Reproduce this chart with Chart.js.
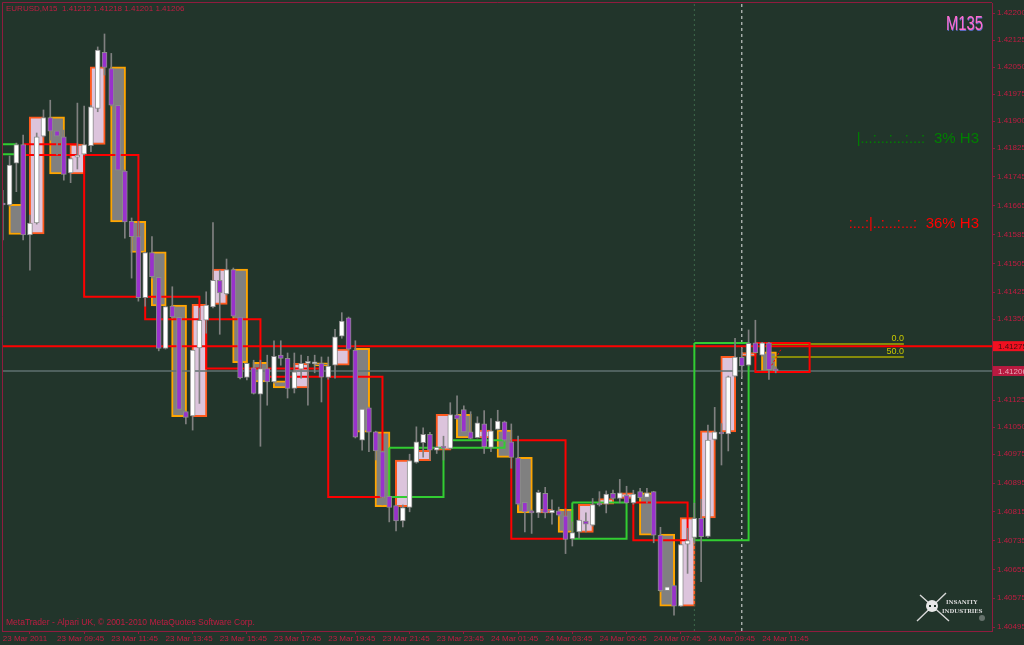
<!DOCTYPE html>
<html>
<head>
<meta charset="utf-8">
<title>EURUSD,M15</title>
<style>
  html, body { margin: 0; padding: 0; background: #22352b; overflow: hidden; }
  canvas { display: block; }
</style>
<script src="https://cdn.jsdelivr.net/npm/chart.js@4/dist/chart.umd.min.js"></script>
</head>
<body>
<canvas id="chart" width="1024" height="645"></canvas>
<script>
// M15 candles, index = bar number from the left edge
const opens = [1.41672,1.41667,1.41783,1.41835,1.41584,1.41617,1.41858,1.41910,1.41873,1.41856,
  1.41756,1.41800,1.41808,1.41832,1.41935,1.42091,1.42046,1.41944,1.41761,1.41622,
  1.41579,1.41410,1.41535,1.41466,1.41269,1.41386,1.41355,1.41093,1.41081,1.41270,
  1.41347,1.41384,1.41458,1.41420,1.41488,1.41356,1.41188,1.41215,1.41142,1.41213,
  1.41176,1.41250,1.41241,1.41158,1.41211,1.41227,1.41226,1.41227,1.41188,1.41222,
  1.41303,1.41354,1.41264,1.41014,1.41104,1.41037,1.40982,1.40858,1.40832,1.40790,
  1.40827,1.40952,1.41007,1.41030,1.40986,1.40997,1.40991,1.41084,1.41099,1.41037,
  1.41021,1.41059,1.40994,1.41044,1.41065,1.41009,1.40965,1.40841,1.40817,1.40812,
  1.40866,1.40812,1.40818,1.40804,1.40740,1.40759,1.40789,1.40778,1.40838,1.40836,
  1.40866,1.40852,1.40861,1.40840,1.40871,1.40855,1.40871,1.40750,1.40596,1.40610,
  1.40553,1.40725,1.40744,1.40797,1.40747,1.41016,1.41036,1.41031,1.41192,1.41244,
  1.41222,1.41284,1.41250,1.41284,1.41212];
const highs = [1.41708,1.41803,1.41839,1.41861,1.41639,1.41867,1.41931,1.41958,1.41889,1.41875,
  1.41797,1.41950,1.41942,1.41944,1.42106,1.42142,1.42088,1.41964,1.41764,1.41631,
  1.41622,1.41536,1.41579,1.41470,1.41386,1.41440,1.41368,1.41095,1.41264,1.41381,
  1.41426,1.41618,1.41486,1.41517,1.41492,1.41433,1.41228,1.41236,1.41236,1.41250,
  1.41290,1.41290,1.41256,1.41256,1.41250,1.41247,1.41250,1.41245,1.41245,1.41322,
  1.41368,1.41356,1.41290,1.41147,1.41106,1.41039,1.40984,1.40859,1.40834,1.40834,
  1.40975,1.41051,1.41048,1.41036,1.40996,1.41025,1.41118,1.41137,1.41109,1.41093,
  1.41079,1.41096,1.41074,1.41097,1.41067,1.41059,1.41025,1.40842,1.40820,1.40875,
  1.40883,1.40848,1.40828,1.40823,1.40787,1.40792,1.40812,1.40852,1.40871,1.40873,
  1.40875,1.40905,1.40886,1.40875,1.40880,1.40880,1.40872,1.40772,1.40679,1.40611,
  1.40725,1.40769,1.40839,1.40850,1.41056,1.41105,1.41060,1.41192,1.41297,1.41270,
  1.41320,1.41347,1.41286,1.41286,1.41218];
const lows = [1.41570,1.41664,1.41704,1.41570,1.41486,1.41614,1.41856,1.41847,1.41806,1.41736,
  1.41729,1.41767,1.41806,1.41815,1.41926,1.42028,1.41942,1.41761,1.41575,1.41464,
  1.41400,1.41386,1.41464,1.41262,1.41267,1.41353,1.41089,1.41059,1.41042,1.41116,
  1.41311,1.41381,1.41308,1.41417,1.41356,1.41184,1.41181,1.41142,1.40997,1.41111,
  1.41172,1.41222,1.41131,1.41145,1.41186,1.41111,1.41201,1.41120,1.41183,1.41186,
  1.41297,1.41264,1.41020,1.40986,1.40982,1.40959,1.40834,1.40787,1.40762,1.40773,
  1.40815,1.40950,1.40967,1.40959,1.40977,1.40959,1.40989,1.41072,1.41036,1.41017,
  1.41020,1.40977,1.40982,1.41042,1.41011,1.40936,1.40834,1.40759,1.40755,1.40799,
  1.40798,1.40781,1.40803,1.40699,1.40720,1.40742,1.40759,1.40775,1.40831,1.40812,
  1.40849,1.40840,1.40838,1.40836,1.40853,1.40839,1.40729,1.40593,1.40570,1.40528,
  1.40552,1.40644,1.40728,1.40621,1.40744,1.41014,1.40945,1.40984,1.41189,1.41190,
  1.41220,1.41256,1.41247,1.41183,1.41201];
const closes = [1.41667,1.41778,1.41835,1.41584,1.41617,1.41856,1.41910,1.41872,1.41858,1.41752,
  1.41796,1.41803,1.41835,1.41940,1.42097,1.42049,1.41944,1.41764,1.41620,1.41579,
  1.41410,1.41535,1.41468,1.41269,1.41385,1.41356,1.41099,1.41077,1.41264,1.41347,
  1.41389,1.41458,1.41423,1.41488,1.41358,1.41187,1.41227,1.41144,1.41213,1.41176,
  1.41247,1.41241,1.41158,1.41204,1.41227,1.41229,1.41229,1.41189,1.41220,1.41301,
  1.41345,1.41267,1.41022,1.41100,1.41036,1.40984,1.40855,1.40827,1.40790,1.40827,
  1.40957,1.41009,1.41030,1.40986,1.40994,1.40992,1.41085,1.41073,1.41037,1.41019,
  1.41062,1.40996,1.41040,1.41067,1.41014,1.40966,1.40836,1.40815,1.40812,1.40869,
  1.40812,1.40820,1.40806,1.40738,1.40757,1.40792,1.40781,1.40835,1.40834,1.40864,
  1.40852,1.40868,1.40840,1.40864,1.40854,1.40868,1.40750,1.40596,1.40607,1.40553,
  1.40724,1.40735,1.40797,1.40746,1.41014,1.41037,1.41031,1.41190,1.41245,1.41220,
  1.41283,1.41257,1.41284,1.41210,1.41206];

// higher timeframe candles drawn behind the M15 bars
const boxBars = [2,5,8,11,14,17,20,23,26,29,32,35,38,41,44,47,50,53,56,59,62,65,68,71,74,77,80,83,86,89,92,95,98,101,104,107,110,113];
const boxOpens = [1.41669,1.41587,1.41912,1.41753,1.41835,1.42051,1.41622,1.41537,1.41389,1.41079,1.41391,1.41489,1.41230,1.41179,1.41159,1.41229,1.41222,1.41269,1.41037,1.40829,1.40957,1.40986,1.41086,1.41020,1.41042,1.40966,1.40812,1.40822,1.40758,1.40836,1.40852,1.40868,1.40753,1.40553,1.40798,1.41037,1.41247,1.41259];
const boxCloses = [1.41585,1.41912,1.41753,1.41836,1.42051,1.41620,1.41535,1.41387,1.41079,1.41391,1.41489,1.41229,1.41176,1.41159,1.41227,1.41220,1.41267,1.41036,1.40829,1.40959,1.40986,1.41086,1.41020,1.41042,1.40966,1.40812,1.40822,1.40758,1.40836,1.40852,1.40868,1.40750,1.40553,1.40799,1.41040,1.41247,1.41257,1.41203];

// H3 outline boxes
const frameStart = [-6,3,12,21,30,39,48,57,66,75,84,93,102,111];
const frameEnd = [2,11,20,29,38,47,56,65,74,83,92,101,110,119];
const frameTop = [1.41836,1.41836,1.41806,1.41412,1.41350,1.41213,1.41190,1.40993,1.41014,1.41014,1.40841,1.40841,1.41284,1.41284];
const frameBottom = [1.41808,1.41806,1.41412,1.41350,1.41213,1.41190,1.40856,1.40856,1.40993,1.40740,1.40740,1.40736,1.40736,1.41203];
const frameUp = [true,false,false,false,false,false,false,true,true,false,true,false,true,false];

const priceTicks = [1.42200,1.42125,1.42050,1.41975,1.41900,1.41825,1.41745,1.41665,1.41585,1.41505,1.41425,1.41350,1.41125,1.41050,1.40975,1.40895,1.40815,1.40735,1.40655,1.40575,1.40495];
const timeTickBars = [0,8,16,24,32,40,48,56,64,72,80,88,96,104,112];
const timeLabels = ["23 Mar 2011","23 Mar 09:45","23 Mar 11:45","23 Mar 13:45","23 Mar 15:45","23 Mar 17:45","23 Mar 19:45","23 Mar 21:45","23 Mar 23:45","24 Mar 01:45","24 Mar 03:45","24 Mar 05:45","24 Mar 07:45","24 Mar 09:45","24 Mar 11:45"];

const askPrice = 1.41275;
const bidPrice = 1.41206;
const fibLevels = [1.41281, 1.41245];
const fibNames = ["0.0", "50.0"];
const fibBars = [113.4, 132.9];
const trendBars = [113.4, 114.9];
const trendPrices = [1.41222, 1.41270];
const cursorBar = 109;
const sessionBar = 102;

const xMin = -0.118, xMax = 145.9;
const yMin = 1.40484, yMax = 1.42228;
const axisColor = "#8f1c3e";
const labelColor = "#c01c42";
const smallFont = '"Liberation Sans"';

const candles = opens.map((o, i) => ({ o, h: highs[i], l: lows[i], c: closes[i], up: closes[i] >= o }));

function lineSet(points, color, width, order, dash) {
  return {
    type: "line",
    data: points,
    borderColor: color,
    borderWidth: width,
    borderDash: dash || [],
    pointRadius: 0,
    tension: 0,
    fill: false,
    order,
  };
}

const datasets = [];

// outline boxes and horizontal levels sit between the big boxes and the candles
frameStart.forEach((start, i) => {
  const end = frameEnd[i], top = frameTop[i], bottom = frameBottom[i];
  datasets.push(lineSet(
    [{ x: start, y: top }, { x: end, y: top }, { x: end, y: bottom }, { x: start, y: bottom }, { x: start, y: top }],
    frameUp[i] ? "#32cd32" : "#ff0000", 2, 3));
});
datasets.push(lineSet([{ x: xMin, y: bidPrice }, { x: xMax, y: bidPrice }], "#5f7070", 1.4, 4));
datasets.push(lineSet([{ x: xMin, y: askPrice }, { x: xMax, y: askPrice }], "#ff0000", 2, 3));
fibLevels.forEach((level) => {
  datasets.push(lineSet(fibBars.map((x) => ({ x, y: level })), "#a8a800", 1.5, 3));
});
datasets.push(lineSet([{ x: trendBars[0], y: trendPrices[0] }, { x: trendBars[1], y: trendPrices[1] }], "#ff0000", 1, 0, [2, 2]));
datasets.push(lineSet([{ x: cursorBar, y: yMin }, { x: cursorBar, y: yMax }], "#e6e6e6", 1, 3, [3, 3]));
datasets.push(lineSet([{ x: sessionBar, y: yMin }, { x: sessionBar, y: yMax }], "#3f6a4c", 1, 3, [2, 3]));

datasets.push({
  data: boxBars.map((x, i) => ({ x, y: [boxOpens[i], boxCloses[i]] })),
  backgroundColor: boxBars.map((_, i) => (boxCloses[i] >= boxOpens[i] ? "#dcc4dc" : "#808080")),
  borderColor: boxBars.map((_, i) => (boxCloses[i] >= boxOpens[i] ? "#ff5a1e" : "#ffa500")),
  borderWidth: 2,
  borderSkipped: false,
  barThickness: 15,
  order: 5,
});
datasets.push({
  data: candles.map((c, i) => ({ x: i, y: [c.l, c.h] })),
  backgroundColor: "#808080",
  borderWidth: 0,
  barThickness: 1,
  order: 2,
});
datasets.push({
  data: candles.map((c, i) => ({ x: i, y: [c.o, c.c] })),
  backgroundColor: candles.map((c) => (c.up ? "#ffffff" : "#9932cc")),
  borderColor: "#8c8c8c",
  borderWidth: 1,
  borderSkipped: false,
  barThickness: 5,
  minBarLength: 2,
  order: 1,
});

const overlayPlugin = {
  id: "overlay",
  afterDraw(chart) {
    const { ctx, chartArea: area, scales } = chart;
    const y = scales.y;
    ctx.save();

    // left and top frame of the chart window
    ctx.strokeStyle = axisColor;
    ctx.lineWidth = 1;
    ctx.beginPath();
    ctx.moveTo(area.left + 0.5, area.bottom);
    ctx.lineTo(area.left + 0.5, area.top - 0.5);
    ctx.lineTo(area.right, area.top - 0.5);
    ctx.stroke();

    ctx.textBaseline = "middle";
    ctx.textAlign = "left";
    ctx.font = `8px ${smallFont}`;
    ctx.fillStyle = labelColor;
    ctx.fillText("EURUSD,M15  1.41212 1.41218 1.41201 1.41206", 6, 9);
    ctx.font = `8.5px ${smallFont}`;
    ctx.fillText("MetaTrader - Alpari UK, \u00a9 2001-2010 MetaQuotes Software Corp.", 6, 623);

    // strength readouts
    ctx.textAlign = "right";
    ctx.font = '15px "Liberation Sans"';
    ctx.fillStyle = "#008000";
    ctx.fillText("3% H3", 979, 139);
    ctx.fillStyle = "#ff0000";
    ctx.fillText("36% H3", 979, 224);
    ctx.font = '14.5px "Liberation Sans"';
    ctx.fillStyle = "#008000";
    ctx.fillText("|...:...:...:...:", 925, 139);
    ctx.fillStyle = "#ff0000";
    ctx.fillText(":...:|..:...:...:", 917, 224);

    // fib level names
    ctx.font = '9px "Liberation Sans"';
    ctx.fillStyle = "#c8c800";
    fibLevels.forEach((level, i) => {
      ctx.fillText(fibNames[i], 904, y.getPixelForValue(level) - 5);
    });

    // price tags on the axis
    ctx.textAlign = "left";
    ctx.font = `8px ${smallFont}`;
    [[askPrice, "#f01020", "#401010"], [bidPrice, "#b81a40", "#e8a8b8"]].forEach(([price, bg, fg]) => {
      const py = y.getPixelForValue(price);
      ctx.fillStyle = bg;
      ctx.fillRect(area.right + 1, py - 5, 32, 10);
      ctx.fillStyle = fg;
      ctx.fillText(price.toFixed(5), 998, py + 0.5);
    });

    // M135 tag
    ctx.save();
    ctx.translate(946, 30);
    ctx.scale(0.74, 1);
    ctx.textBaseline = "alphabetic";
    ctx.font = '20px "Liberation Sans"';
    ctx.fillStyle = "rgba(112,128,255,0.7)";
    ctx.fillText("M135", 0.7, 0.6);
    ctx.fillStyle = "#ff6ccf";
    ctx.fillText("M135", 0, 0);
    ctx.restore();

    // pirate logo
    ctx.strokeStyle = "#d8d8d8";
    ctx.lineWidth = 1.4;
    ctx.beginPath();
    ctx.moveTo(920, 595);
    ctx.lineTo(949, 621);
    ctx.moveTo(946, 593);
    ctx.lineTo(917, 621);
    ctx.stroke();
    ctx.fillStyle = "#e8e8e8";
    ctx.beginPath();
    ctx.arc(932, 606, 6, 0, Math.PI * 2);
    ctx.fill();
    ctx.fillStyle = "#22352b";
    ctx.fillRect(929, 605, 2, 2);
    ctx.fillRect(934, 605, 2, 2);
    ctx.fillStyle = "#d8d8d8";
    ctx.font = 'bold 5.5px "DejaVu Serif"';
    ctx.fillText("INSANITY", 946, 603);
    ctx.fillText("INDUSTRIES", 942, 612);
    ctx.fillStyle = "#66726c";
    ctx.beginPath();
    ctx.arc(982, 618, 3, 0, Math.PI * 2);
    ctx.fill();
    ctx.restore();
  },
};

new Chart(document.getElementById("chart"), {
  type: "bar",
  data: { datasets },
  options: {
    responsive: false,
    animation: false,
    events: [],
    layout: { padding: { left: 2, top: 3 } },
    datasets: { bar: { grouped: false } },
    plugins: { legend: { display: false }, title: { display: false }, tooltip: { enabled: false } },
    scales: {
      x: {
        type: "linear",
        offset: false,
        min: xMin,
        max: xMax,
        afterFit(scale) {
          scale.height = 14;
          scale.paddingLeft = 0;
          scale.paddingRight = 0;
        },
        afterBuildTicks(scale) { scale.ticks = timeTickBars.map((value) => ({ value })); },
        border: { color: axisColor, width: 1 },
        grid: { drawOnChartArea: false, color: axisColor, tickLength: 3 },
        ticks: {
          autoSkip: false,
          maxRotation: 0,
          align: "start",
          padding: 0,
          color: labelColor,
          font: { family: smallFont, size: 8 },
          callback(value) { return timeLabels[timeTickBars.indexOf(value)]; },
        },
      },
      y: {
        type: "linear",
        position: "right",
        min: yMin,
        max: yMax,
        afterFit(scale) {
          scale.width = 32;
          scale.paddingTop = 0;
          scale.paddingBottom = 0;
        },
        afterBuildTicks(scale) { scale.ticks = priceTicks.map((value) => ({ value })); },
        border: { color: axisColor, width: 1 },
        grid: { drawOnChartArea: false, color: axisColor, tickLength: 3 },
        ticks: {
          autoSkip: false,
          padding: 2,
          color: labelColor,
          font: { family: smallFont, size: 8 },
          callback(value) { return value.toFixed(5); },
        },
      },
    },
  },
  plugins: [overlayPlugin],
});
</script>
</body>
</html>
